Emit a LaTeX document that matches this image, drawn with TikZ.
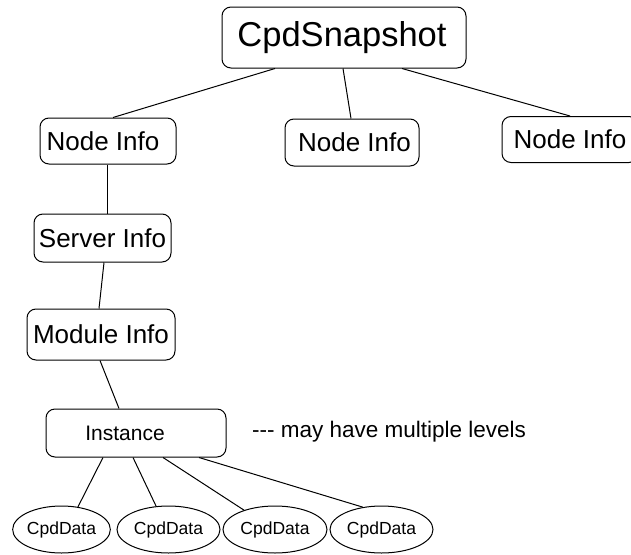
\documentclass[tikz,border=0pt]{standalone}
\usepackage{fontspec}
\setmainfont{Liberation Sans}
\usetikzlibrary{calc,shapes.geometric}
\begin{document}
\begin{tikzpicture}[x=1pt,y=-1pt,
  box/.style={draw,rounded corners=9pt,line width=1pt,inner sep=0pt},
  bigfont/.style={font=\fontsize{34.5}{40}\selectfont},
  midfont/.style={font=\fontsize{26}{30}\selectfont},
  dat/.style={draw,ellipse,line width=1pt,inner sep=0pt,minimum width=100pt,minimum height=47pt,font=\fontsize{17.5}{20}\selectfont},
  conn/.style={line width=1pt}]
\useasboundingbox (0,0) rectangle (631,554);
\clip (0,0) rectangle (631,554);
\node[box,bigfont,minimum width=244pt,minimum height=61pt] (cs) at (344,37.5) {CpdSnapshot\kern4pt};
\node[box,midfont,minimum width=136pt,minimum height=46pt] (ni1) at (108,141) {Node Info\kern10pt};
\node[box,midfont,minimum width=134pt,minimum height=47pt] (ni2) at (352,142.5) {\kern5pt Node Info};
\node[box,midfont,minimum width=136pt,minimum height=46pt] (ni3) at (570,139.5) {Node Info};
\node[box,midfont,minimum width=137pt,minimum height=48pt] (sv) at (102.5,238) {Server Info};
\node[box,midfont,minimum width=148pt,minimum height=51pt] (md) at (101,334.5) {Module Info};
\node[box,font=\fontsize{21}{25}\selectfont,minimum width=180pt,minimum height=48pt] (inst) at (136,433) {Instance\kern22pt};
\node[anchor=base west,inner sep=0pt,font=\fontsize{22.5}{26}\selectfont] (note) at (252,437) {-{}-{}- may have multiple levels};
\node[dat,minimum width=97pt] (e1) at (61.5,529.5) {CpdData};
\node[dat,minimum width=103pt] (e2) at (168.5,529.5) {CpdData};
\node[dat,minimum width=104pt] (e3) at (275,529.5) {CpdData};
\node[dat,minimum width=103pt] (e4) at (381.5,529.5) {CpdData};
\draw[conn] ($(cs.south)+(-69,0)$) -- ($(ni1.north)+(5,0)$);
\draw[conn] ($(cs.south)+(-1,0)$) -- ($(ni2.north)+(-1,0)$);
\draw[conn] ($(cs.south)+(58,0)$) -- (ni3.north);
\draw[conn] ($(ni1.south)+(-1,0)$) -- ($(sv.north)+(4.5,0)$);
\draw[conn] ($(sv.south)+(1.5,0)$) -- ($(md.north)+(-2,0)$);
\draw[conn] ($(md.south)+(-1,0)$) -- ($(inst.north)+(-17,0)$);
\draw[conn] ($(inst.south)+(-33,0)$) -- (e1.54);
\draw[conn] ($(inst.south)+(-3,0)$) -- (e2.118);
\draw[conn] ($(inst.south)+(27,0)$) -- (e3.148);
\draw[conn] ($(inst.south)+(63,0)$) -- (e4.130);
\end{tikzpicture}
\end{document}
